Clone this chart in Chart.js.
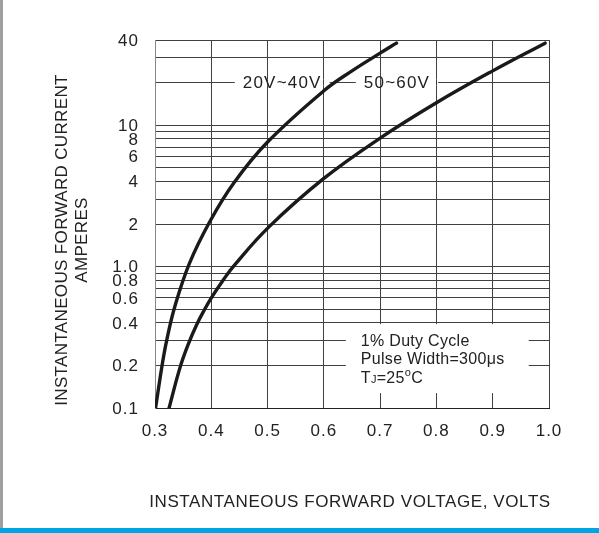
<!DOCTYPE html>
<html>
<head>
<meta charset="UTF-8">
<title>Forward characteristics</title>
<style>
  body { margin: 0; background: #fff; }
  #wrap { position: relative; width: 599px; height: 533px; overflow: hidden; }
  #chart { position: absolute; left: 0; top: 0; }
  #edgeL { position: absolute; left: 0; top: 0; width: 3px; height: 528px; background: #a0a0a0; }
  #edgeB { position: absolute; left: 0; top: 528px; width: 599px; height: 5px; background: #00a6e3; }
</style>
</head>
<body>
<div id="wrap">
  <canvas id="chart" width="599" height="533"></canvas>
  <div id="edgeL"></div>
  <div id="edgeB"></div>
</div>
<script src="https://cdn.jsdelivr.net/npm/chart.js"></script>
<script>
// curves (volts, amperes)
const v2040 = [0.301, 0.313, 0.3207, 0.335, 0.361, 0.398, 0.44, 0.5, 0.6, 0.65, 0.7, 0.729];
const i2040 = [0.1, 0.205, 0.3, 0.518, 1.05, 2.1, 3.9, 7.6, 17.5, 24.2, 32.3, 38];
const v5060 = [0.325, 0.3444, 0.359, 0.374, 0.3876, 0.4006, 0.4213, 0.439, 0.502, 0.6, 0.7, 0.8, 0.9, 0.993];
const i5060 = [0.1, 0.193, 0.282, 0.388, 0.493, 0.606, 0.804, 1.0, 1.9, 4.2, 8.1, 14.4, 24.2, 38];

const xTicks = [0.3, 0.4, 0.5, 0.6, 0.7, 0.8, 0.9, 1.0];
const xTickLabels = ['0.3', '0.4', '0.5', '0.6', '0.7', '0.8', '0.9', '1.0'];
const yGrid = [0.1, 0.2, 0.3, 0.4, 0.5, 0.6, 0.7, 0.8, 0.9, 1, 2, 3, 4, 5, 6, 7, 8, 9, 10, 20, 30, 40];
const yTickValues = [0.1, 0.2, 0.4, 0.6, 0.8, 1, 2, 4, 6, 8, 10, 40];
const yTickLabels = ['0.1', '0.2', '0.4', '0.6', '0.8', '1.0', '2', '4', '6', '8', '10', '40'];

const curveLabels = ['20V~40V', '50~60V'];
const labelV = [0.456, 0.671];
const labelI = [20, 20];

const noteLines = ['1% Duty Cycle', 'Pulse Width=300\u03bcs'];
const noteBox = [0.639, 0.964, 0.1275, 0.392]; // volts from/to, amperes from/to

const xTitle = 'INSTANTANEOUS FORWARD VOLTAGE, VOLTS';
const yTitle = ['INSTANTANEOUS FORWARD CURRENT', 'AMPERES'];

const FONT = '"Liberation Sans", Arial, sans-serif';
const gridColor = '#404040';
const textColor = '#222';

function align(p) { return Math.round(p - 0.5) + 0.5; }

const overlay = {
  id: 'overlay',
  beforeDraw(chart) {
    // the original lettering is loosely spaced
    chart.ctx.letterSpacing = '1px';
  },
  beforeDatasetsDraw(chart) {
    const { ctx, scales: { x, y } } = chart;
    ctx.save();
    ctx.lineWidth = 1;

    // labels sit on the 20 A line, white strip hides that line only
    ctx.font = '17px ' + FONT;
    ctx.letterSpacing = '1.2px';
    ctx.textBaseline = 'middle';
    curveLabels.forEach((txt, k) => {
      const px = x.getPixelForValue(labelV[k]);
      const py = y.getPixelForValue(labelI[k]);
      const w = ctx.measureText(txt).width;
      ctx.fillStyle = '#fff';
      ctx.fillRect(px - 8, py - 3, w + 16, 6);
      ctx.strokeStyle = gridColor;
      xTicks.forEach(v => {
        const gx = align(x.getPixelForValue(v));
        if (gx > px - 8 && gx < px + w + 8) {
          ctx.beginPath(); ctx.moveTo(gx, py - 3); ctx.lineTo(gx, py + 3); ctx.stroke();
        }
      });
      ctx.fillStyle = textColor;
      ctx.fillText(txt, px, py + 1);
    });

    // test conditions box
    const bl = x.getPixelForValue(noteBox[0]);
    const br = x.getPixelForValue(noteBox[1]);
    const bb = y.getPixelForValue(noteBox[2]);
    const bt = y.getPixelForValue(noteBox[3]);
    ctx.fillStyle = '#fff';
    ctx.fillRect(bl, bt, br - bl, bb - bt);
    ctx.fillStyle = textColor;
    ctx.textBaseline = 'alphabetic';
    ctx.letterSpacing = '0.3px';
    ctx.font = '16px ' + FONT;
    noteLines.forEach((t, k) => ctx.fillText(t, bl + 15, bt + 22 + k * 18.4));
    let tx = bl + 15;
    const ty = bt + 22 + 2 * 18.4;
    ctx.fillText('T', tx, ty); tx += ctx.measureText('T').width;
    ctx.font = '11px ' + FONT;
    ctx.fillText('J', tx, ty); tx += ctx.measureText('J').width;
    ctx.font = '16px ' + FONT;
    ctx.fillText('=25', tx, ty); tx += ctx.measureText('=25').width;
    ctx.font = '11px ' + FONT;
    ctx.fillText('o', tx, ty - 7); tx += ctx.measureText('o').width;
    ctx.font = '16px ' + FONT;
    ctx.fillText('C', tx, ty);
    ctx.restore();
  },
  afterDraw(chart) {
    const { ctx } = chart;
    ctx.save();
    ctx.fillStyle = textColor;
    ctx.font = '17px ' + FONT;
    ctx.letterSpacing = '0.6px';
    ctx.textAlign = 'center';
    ctx.textBaseline = 'middle';
    ctx.fillText(xTitle, 350, 502);
    ctx.letterSpacing = '0.35px';
    ctx.translate(0, 240);
    ctx.rotate(-Math.PI / 2);
    ctx.fillText(yTitle[0], 0, 62);
    ctx.fillText(yTitle[1], 0, 82);
    ctx.restore();
  }
};

const ctx = document.getElementById('chart').getContext('2d');
new Chart(ctx, {
  type: 'line',
  data: {
    datasets: [
      { label: curveLabels[0], data: v2040.map((v, k) => ({ x: v, y: i2040[k] })) },
      { label: curveLabels[1], data: v5060.map((v, k) => ({ x: v, y: i5060[k] })) }
    ]
  },
  options: {
    responsive: false,
    animation: false,
    events: [],
    layout: { padding: { left: 0, top: 40, right: 50, bottom: 0 } },
    elements: {
      line: { borderColor: '#1a1a1a', borderWidth: 3.4, tension: 0.4, borderCapStyle: 'round', borderJoinStyle: 'round', fill: false },
      point: { radius: 0 }
    },
    plugins: { legend: { display: false }, tooltip: { enabled: false } },
    scales: {
      x: {
        type: 'linear', min: 0.3, max: 1.0,
        afterBuildTicks: s => { s.ticks = xTicks.map(v => ({ value: v })); },
        afterFit: s => { s.height = 125; },
        grid: { color: gridColor, lineWidth: 1, drawTicks: false },
        border: { color: '#222', width: 1 },
        ticks: {
          autoSkip: false, maxRotation: 0, padding: 13,
          color: textColor, font: { family: FONT, size: 17 },
          callback: v => xTickLabels[xTicks.findIndex(t => Math.abs(t - v) < 1e-6)] ?? ''
        }
      },
      y: {
        type: 'logarithmic', min: 0.1, max: 40,
        afterBuildTicks: s => { s.ticks = yGrid.map(v => ({ value: v })); },
        afterFit: s => { s.width = 155; },
        grid: { color: gridColor, lineWidth: 1, drawTicks: false },
        border: { color: '#888', width: 1 },
        ticks: {
          autoSkip: false, padding: 16, labelOffset: 1,
          color: textColor, font: { family: FONT, size: 17 },
          callback: v => {
            const k = yTickValues.findIndex(t => Math.abs(t - v) < 1e-6);
            return k < 0 ? '' : yTickLabels[k];
          }
        }
      }
    }
  },
  plugins: [overlay]
});
</script>
</body>
</html>
